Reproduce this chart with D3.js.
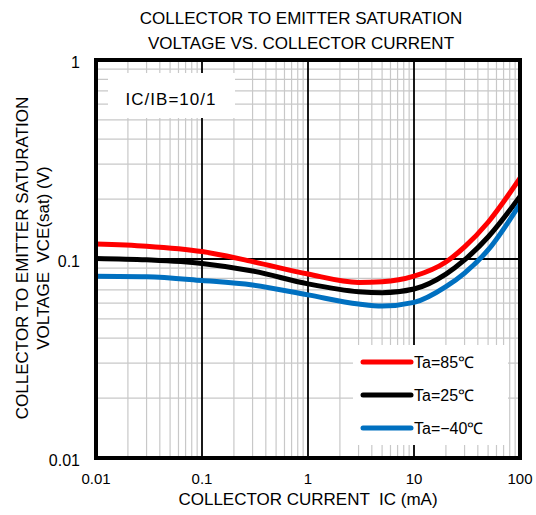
<!DOCTYPE html>
<html><head><meta charset="utf-8">
<script src="https://cdn.jsdelivr.net/npm/d3@7"></script>
<style>
body{margin:0;background:#fff;}
text{font-family:"Liberation Sans",Arial,sans-serif;fill:#000;white-space:pre;}
</style></head>
<body><svg id="c" width="536" height="515"></svg>
<script>
const current = [0.01, 0.03, 0.1, 0.3, 1, 3, 5, 10, 20, 30, 50, 100];
const vce85 = [0.119, 0.116, 0.109, 0.097, 0.084, 0.0763, 0.0769, 0.082, 0.0966, 0.115, 0.153, 0.255];
const vce25 = [0.1006, 0.099, 0.095, 0.087, 0.075, 0.0685, 0.0677, 0.0707, 0.084, 0.0989, 0.129, 0.206];
const vceM40 = [0.082, 0.0815, 0.078, 0.074, 0.066, 0.0594, 0.058, 0.0605, 0.0726, 0.085, 0.111, 0.189];
const seriesNames = ["Ta=85\u2103", "Ta=25\u2103", "Ta=\u221240\u2103"];
const seriesColors = ["#ff0000", "#000000", "#0070c0"];
const xTicks = [0.01, 0.1, 1, 10, 100];
const xTickLabels = ["0.01", "0.1", "1", "10", "100"];
const yTicks = [0.01, 0.1, 1];
const yTickLabels = ["0.01", "0.1", "1"];
const titleLines = ["COLLECTOR TO EMITTER SATURATION", "VOLTAGE VS. COLLECTOR CURRENT"];
const yLabelLines = ["COLLECTOR TO EMITTER SATURATION", "VOLTAGE  VCE(sat) (V)"];
const xLabel = "COLLECTOR CURRENT  IC (mA)";
const note = "IC/IB=10/1";

const svg = d3.select("#c");
const L = 96, R = 520, T = 60, B = 458;
const x = d3.scaleLog().domain([0.01, 100]).range([L, R]);
const y = d3.scaleLog().domain([0.01, 1]).range([B, T]);

// minor grid
const minorX = [], minorY = [];
for (let d = 0.01; d < 100; d *= 10) for (let k = 2; k <= 9; k++) minorX.push(d * k);
for (let d = 0.01; d < 1; d *= 10) for (let k = 2; k <= 9; k++) minorY.push(d * k);
const g = svg.append("g");
g.selectAll(".mx").data(minorX).join("line")
  .attr("x1", d => x(d)).attr("x2", d => x(d)).attr("y1", T).attr("y2", B)
  .attr("stroke", "#c8c8c8").attr("stroke-width", 1.2);
g.selectAll(".my").data(minorY).join("line")
  .attr("y1", d => y(d)).attr("y2", d => y(d)).attr("x1", L).attr("x2", R)
  .attr("stroke", "#c8c8c8").attr("stroke-width", 1.2);
// major grid
g.selectAll(".Mx").data(xTicks.slice(1, -1)).join("line")
  .attr("x1", d => x(d)).attr("x2", d => x(d)).attr("y1", T).attr("y2", B)
  .attr("stroke", "#000").attr("stroke-width", 1.8);
g.selectAll(".My").data(yTicks.slice(1, -1)).join("line")
  .attr("y1", d => y(d)).attr("y2", d => y(d)).attr("x1", L).attr("x2", R)
  .attr("stroke", "#000").attr("stroke-width", 1.8);

// note box
svg.append("rect").attr("x", 108).attr("y", 73).attr("width", 127).attr("height", 45).attr("fill", "#fff");
svg.append("text").attr("x", 171).attr("y", 99).attr("dy", "0.35em").attr("text-anchor", "middle")
  .style("font-size", "17px").style("letter-spacing", "1px").text(note);

// curves
const line = d3.line().x(d => x(d[0])).y(d => y(d[1])).curve(d3.curveMonotoneX);
[vce85, vce25, vceM40].forEach((vals, i) => {
  svg.append("path").datum(current.map((c, j) => [c, vals[j]]))
    .attr("d", line).attr("fill", "none").attr("stroke", seriesColors[i])
    .attr("stroke-width", 5).attr("stroke-linecap", "butt");
});

// legend
svg.append("rect").attr("x", 353).attr("y", 345).attr("width", 155).attr("height", 100).attr("fill", "#fff");
seriesNames.forEach((n, i) => {
  const yy = 362 + i * 33;
  svg.append("line").attr("x1", 363).attr("x2", 411).attr("y1", yy).attr("y2", yy)
    .attr("stroke", seriesColors[i]).attr("stroke-width", 5).attr("stroke-linecap", "round");
  svg.append("text").attr("x", 414).attr("y", yy).attr("dy", "0.35em")
    .style("font-size", "16px").text(n);
});

// frame
svg.append("rect").attr("x", L).attr("y", T).attr("width", R - L).attr("height", B - T)
  .attr("fill", "none").attr("stroke", "#000").attr("stroke-width", 4);

// tick labels
svg.selectAll(".xt").data(xTicks).join("text")
  .attr("x", d => x(d)).attr("y", 479).attr("dy", "0.35em").attr("text-anchor", "middle")
  .style("font-size", "15px").text((d, i) => xTickLabels[i]);
svg.selectAll(".yt").data(yTicks).join("text")
  .attr("x", 80).attr("y", d => y(d) + 2).attr("dy", "0.35em").attr("text-anchor", "end")
  .style("font-size", "16px").text((d, i) => yTickLabels[i]);

// titles
titleLines.forEach((t, i) => {
  svg.append("text").attr("x", 301).attr("y", 18 + i * 25).attr("dy", "0.35em")
    .attr("text-anchor", "middle").style("font-size", "17px").text(t);
});
yLabelLines.forEach((t, i) => {
  svg.append("text").attr("transform", `translate(${22 + i * 21},258) rotate(-90)`)
    .attr("dy", "0.35em").attr("text-anchor", "middle").style("font-size", "17px").text(t);
});
svg.append("text").attr("x", 308).attr("y", 499).attr("dy", "0.35em")
  .attr("text-anchor", "middle").style("font-size", "17px").text(xLabel);
</script></body></html>
